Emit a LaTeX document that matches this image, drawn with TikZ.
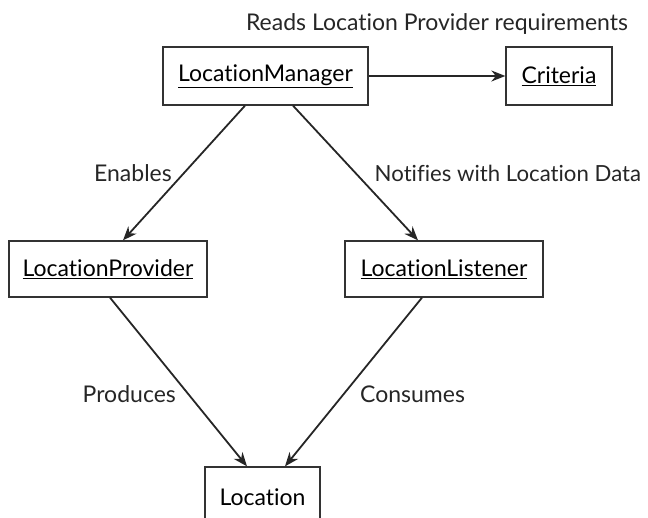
\documentclass[tikz,border=0pt]{standalone}
\usepackage{fontspec}
\setmainfont{Lato}[Ligatures=NoCommon]
\usetikzlibrary{arrows.meta}

\begin{document}
\begin{tikzpicture}[x=1pt, y=-1pt, > = {Stealth[length=14pt, width=11pt]},
    font=\fontsize{23}{27}\selectfont,
    classbox/.style = {draw=black!80, line width=1.3pt, inner sep=0pt, minimum height=58pt},
    link/.style = {->, line width=1.8pt, black!85},
    tag/.style = {text=black!85}]

    % frame
    \clip (0,0) rectangle (648,518);
    \useasboundingbox (0,0) rectangle (648,518);

    % classes
    \node[classbox, minimum width=205pt] (manager) at (265.5,76) {\underline{LocationManager}};
    \node[classbox, minimum width=106pt] (criteria) at (559,76) {\underline{Criteria}};
    \node[classbox, minimum width=198pt, minimum height=56pt] (provider) at (108,269) {\underline{LocationProvider}};
    \node[classbox, minimum width=198pt, minimum height=56pt] (listener) at (444,269) {\underline{LocationListener}};
    \node[classbox, minimum width=115pt, minimum height=60pt] (location) at (262.5,497) {Location};

    % relations
    \draw[link] (manager) -- (criteria)
        node[midway, yshift=52pt, tag] {Reads Location Provider requirements};
    \draw[link] ([xshift=-20.5pt]manager.south) -- ([xshift=15pt]provider.north)
        node[midway, left=8pt, tag] {Enables};
    \draw[link] ([xshift=27.5pt]manager.south) -- ([xshift=-26pt]listener.north)
        node[midway, right=15pt, tag, font=\fontsize{22.2}{26}\selectfont] {Notifies with Location Data};
    \draw[link] ([xshift=2pt]provider.south) -- ([xshift=-15.5pt]location.north)
        node[pos=0.57, left=8pt, tag] {Produces};
    \draw[link] ([xshift=-22pt]listener.south) -- ([xshift=22.5pt]location.north)
        node[pos=0.57, right=12pt, tag] {Consumes};

\end{tikzpicture}
\end{document}
